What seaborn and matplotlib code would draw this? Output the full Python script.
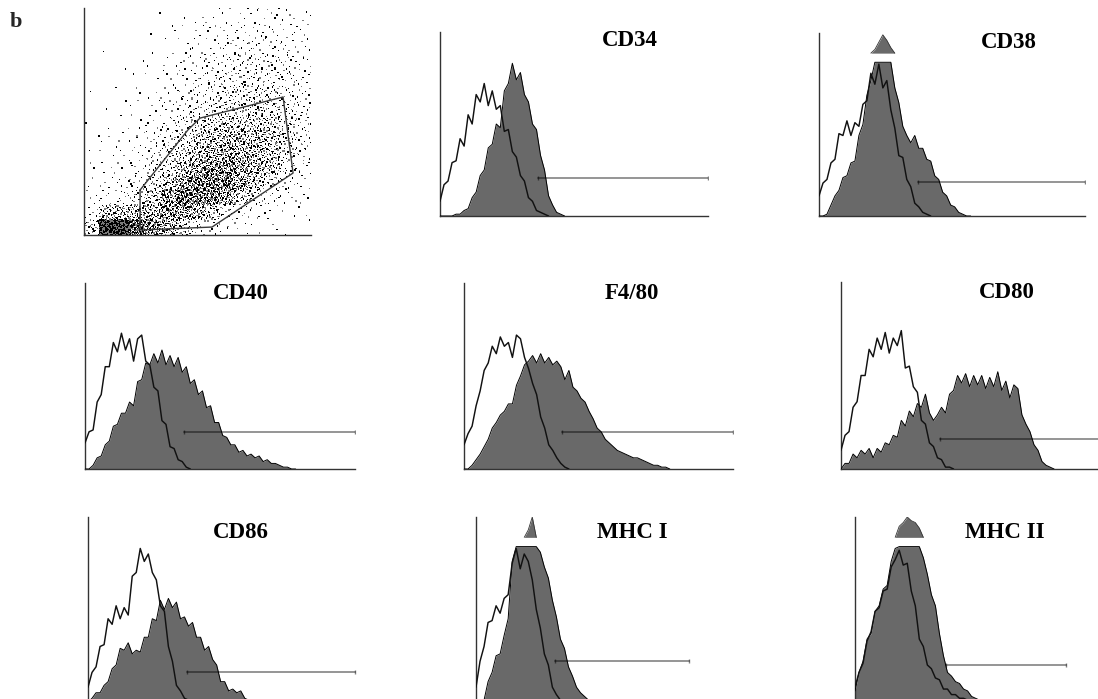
import numpy as np
import pandas as pd
import matplotlib
matplotlib.use("Agg")
import matplotlib.pyplot as plt
import seaborn as sns

# scatter: dot counts per cell of a 15 x 15 grid (top row first)
scatter_counts = [
    [0, 0, 0, 0, 0, 1, 1, 2, 3, 3, 4, 5, 5, 4, 3],
    [0, 0, 0, 0, 1, 1, 2, 3, 4, 5, 6, 7, 6, 5, 4],
    [0, 1, 0, 0, 1, 2, 3, 5, 6, 8, 9, 9, 8, 7, 5],
    [0, 0, 0, 1, 1, 2, 4, 6, 9, 11, 12, 12, 11, 9, 6],
    [0, 0, 1, 1, 2, 3, 5, 8, 11, 14, 15, 15, 14, 11, 8],
    [1, 0, 1, 2, 2, 4, 7, 10, 14, 17, 18, 18, 16, 13, 9],
    [0, 1, 1, 2, 3, 6, 9, 14, 18, 22, 24, 24, 20, 16, 10],
    [1, 1, 2, 3, 5, 8, 13, 20, 26, 30, 32, 32, 28, 20, 12],
    [1, 2, 2, 4, 7, 12, 20, 30, 38, 42, 44, 42, 34, 22, 12],
    [1, 2, 3, 5, 9, 16, 28, 42, 52, 55, 52, 46, 36, 20, 10],
    [2, 3, 4, 7, 12, 22, 40, 60, 72, 70, 60, 48, 34, 16, 8],
    [3, 4, 6, 10, 18, 34, 60, 85, 90, 78, 56, 36, 20, 10, 5],
    [4, 6, 10, 18, 32, 58, 90, 100, 85, 56, 30, 16, 8, 5, 3],
    [6, 40, 45, 45, 50, 65, 65, 50, 30, 15, 8, 5, 3, 2, 2],
    [25, 330, 320, 130, 80, 50, 28, 14, 7, 4, 3, 2, 2, 1, 1],
]
gate_x = [247, 247, 564, 921, 877, 511, 458, 247]
gate_y = [198, 22, 35, 273, 608, 515, 463, 198]

# histograms: heights (% of axis) every 1.5 % of the axis width
STEP = 1.5
cd34_ctrl = [8, 17, 19, 29, 30, 42, 38, 55, 50, 66, 62, 72, 60, 68, 58, 60, 46, 47, 35, 32, 22, 19, 10, 8, 3, 2, 1, 0]
cd34_pos = [0, 0, 0, 0, 1, 1, 3, 4, 10, 13, 22, 25, 37, 39, 50, 48, 68, 72, 83, 74, 78, 66, 62, 50, 47, 33, 25, 11, 6, 2, 1, 0]
cd38_ctrl = [11, 18, 20, 29, 31, 45, 44, 52, 44, 51, 49, 61, 63, 78, 72, 83, 70, 74, 58, 48, 33, 32, 20, 16, 7, 5, 2, 1, 0]
cd38_pos = [0, 0, 1, 6, 11, 14, 21, 22, 29, 30, 44, 50, 66, 74, 86, 90, 94, 91, 87, 70, 62, 49, 44, 40, 44, 37, 37, 31, 30, 22,
            20, 13, 11, 6, 5, 2, 1, 0, 0]
cd40_ctrl = [14, 20, 21, 36, 40, 55, 55, 68, 63, 73, 64, 70, 58, 70, 72, 58, 56, 44, 42, 26, 24, 12, 11, 5, 4, 1, 0]
cd40_pos = [0, 0, 2, 6, 7, 13, 15, 23, 24, 30, 30, 36, 34, 47, 48, 57, 56, 62, 57, 64, 56, 61, 55, 60, 52, 55, 46, 48, 40, 42,
            33, 34, 25, 25, 18, 17, 13, 13, 9, 10, 7, 8, 6, 7, 4, 5, 3, 3, 2, 1, 1, 0, 0]
f480_ctrl = [13, 19, 23, 34, 42, 53, 57, 66, 62, 71, 66, 68, 60, 72, 70, 60, 54, 46, 40, 28, 22, 13, 10, 6, 3, 1, 0]
f480_pos = [0, 0, 2, 5, 8, 12, 16, 22, 25, 29, 31, 35, 35, 45, 50, 56, 58, 61, 57, 62, 57, 60, 56, 58, 55, 48, 53, 44, 42, 38,
            36, 31, 27, 22, 20, 16, 14, 12, 10, 9, 8, 7, 6, 6, 5, 4, 3, 2, 2, 1, 1, 0]
cd80_ctrl = [10, 18, 20, 33, 36, 50, 50, 64, 60, 70, 64, 73, 62, 70, 66, 74, 54, 55, 44, 41, 26, 24, 14, 12, 6, 5, 1, 1, 0]
cd80_pos = [0, 3, 3, 8, 6, 10, 8, 11, 6, 11, 9, 14, 13, 18, 17, 26, 23, 31, 28, 35, 33, 40, 30, 26, 29, 33, 30, 40, 42, 50,
            46, 51, 44, 50, 45, 50, 43, 49, 44, 52, 42, 47, 38, 45, 43, 29, 24, 20, 13, 10, 4, 2, 1, 0]
cd86_ctrl = [8, 16, 19, 30, 31, 45, 42, 52, 45, 51, 47, 68, 70, 83, 76, 80, 70, 66, 52, 49, 30, 22, 9, 6, 2, 1, 0]
cd86_pos = [0, 2, 5, 5, 9, 11, 18, 20, 29, 28, 32, 26, 28, 27, 35, 35, 45, 44, 55, 50, 56, 51, 54, 45, 46, 41, 43, 35, 35, 28,
            30, 23, 20, 11, 11, 6, 7, 5, 6, 2, 1, 0]
mhc1_ctrl = [8, 22, 30, 43, 44, 52, 48, 56, 58, 75, 83, 72, 80, 76, 66, 50, 40, 26, 20, 8, 4, 1, 0]
mhc1_pos = [0, 0, 1, 11, 16, 25, 26, 36, 45, 76, 84, 84, 84, 88, 95, 84, 81, 73, 67, 55, 46, 34, 29, 19, 14, 8, 5, 3, 1, 0]
mhc2_ctrl = [8, 16, 21, 33, 38, 49, 51, 60, 61, 73, 77, 82, 74, 75, 60, 52, 34, 30, 20, 18, 13, 12, 7, 7, 4, 4, 2, 2, 1, 0, 0]
mhc2_pos = [6, 16, 22, 34, 37, 49, 52, 61, 63, 76, 83, 90, 92, 95, 93, 92, 89, 78, 69, 58, 52, 37, 25, 16, 14, 11, 10, 7, 6, 3,
            2, 1, 0]

markers = ["CD34", "CD38", "CD40", "F4/80", "CD80", "CD86", "MHC I", "MHC II"]
controls = [cd34_ctrl, cd38_ctrl, cd40_ctrl, f480_ctrl, cd80_ctrl, cd86_ctrl, mhc1_ctrl, mhc2_ctrl]
positives = [cd34_pos, cd38_pos, cd40_pos, f480_pos, cd80_pos, cd86_pos, mhc1_pos, mhc2_pos]
# gate bar on each histogram: height and start/end (% of axis)
bar_y = [20.4, 18.4, 19.7, 19.7, 15.9, 16.4, 22.1, 20.0]
bar_x0 = [36.6, 37.3, 36.6, 36.3, 36.9, 36.9, 29.4, 33.8]
bar_x1 = [100, 100, 100, 100, 100, 99.8, 79.4, 78.6]

CLIP = 84        # histogram peaks above this wrap round above a white gap
OVER_BASE = 89
FILL = "#696969"

sns.set_theme(style="white")
plt.rcParams["font.family"] = ["Liberation Serif", "DejaVu Serif"]

W, H = 1098, 699
fig = plt.figure(figsize=(W / 100, H / 100), dpi=100)


def add_axes_px(left, top, right, bottom):
    return fig.add_axes([left / W, 1 - bottom / H, (right - left) / W, (bottom - top) / H])


def style_axes(ax, lim):
    ax.set_xlim(0, lim)
    ax.set_ylim(0, lim)
    ax.set_xticks([])
    ax.set_yticks([])
    ax.set_xlabel("")
    ax.set_ylabel("")
    ax.set_facecolor("white")
    sns.despine(ax=ax)
    for s in ["left", "bottom"]:
        ax.spines[s].set_color("#333333")
        ax.spines[s].set_linewidth(1.0)


def halton(i, base):
    f, r = 1.0, 0.0
    while i > 0:
        f /= base
        r += f * (i % base)
        i //= base
    return r


# ---- scatter panel: each cell's dots spread with a Halton sequence
counts = np.array(scatter_counts)
nr, nc = counts.shape
cell = 1000 / nc
xs, ys, shade = [], [], []
for r in range(nr):
    for c in range(nc):
        start = (r * nc + c) * 53 + 7
        for k in range(counts[r, c]):
            xs.append(c * cell + halton(start + k, 2) * cell)
            ys.append((nr - 1 - r) * cell + halton(start + k, 3) * cell)
            shade.append("g" if (k % 5) in (1, 3) else "k")
dots = pd.DataFrame({"x": xs, "y": ys, "shade": shade})

ax_sc = add_axes_px(84, 8, 311, 235)
sns.scatterplot(data=dots, x="x", y="y", hue="shade", palette={"k": "#000000", "g": "#7a7a7a"},
                marker="s", s=1.0, linewidth=0, legend=False, ax=ax_sc)
sns.lineplot(x=gate_x, y=gate_y, sort=False, estimator=None, color="#3a3a3a", lw=1.0, ax=ax_sc)
style_axes(ax_sc, 1000)

# ---- histogram panels
rects = [(440, 32, 708, 216), (819, 33, 1085, 216),
         (85, 283, 355, 469), (464, 283, 733, 469), (841, 282, 1109, 469),
         (88, 517, 356, 702), (476, 517, 744, 702), (855, 517, 1123, 702)]
title_pos = [(0.71, 0.954), (0.714, 0.95), (0.576, 0.944), (0.623, 0.944), (0.62, 0.944),
             (0.571, 0.914), (0.582, 0.914), (0.56, 0.914)]

for i, name in enumerate(markers):
    ax = add_axes_px(*rects[i])
    ctrl = np.asarray(controls[i], float)
    pos = np.asarray(positives[i], float)
    xc = np.arange(len(ctrl)) * STEP
    xp = np.arange(len(pos)) * STEP

    low = np.minimum(pos, CLIP)
    ax.fill_between(xp, 0, low, color=FILL, lw=0, zorder=1)
    over = pos > CLIP
    if over.any():
        top = np.where(over, np.minimum(OVER_BASE + pos - CLIP, 100), OVER_BASE)
        ax.fill_between(xp, OVER_BASE, top, color=FILL, lw=0, zorder=1)
        near = over | np.roll(over, 1) | np.roll(over, -1)
        ax.plot(xp, np.where(near, top, np.nan), color="#333333", lw=0.6, zorder=3)
    sns.lineplot(x=xp, y=low, sort=False, estimator=None, color="black", lw=0.7, ax=ax, zorder=3)
    sns.lineplot(x=xc, y=ctrl, sort=False, estimator=None, color="#111111", lw=1.05, ax=ax, zorder=4)

    # gate bar
    ax.plot([bar_x0[i], bar_x1[i]], [bar_y[i], bar_y[i]], color="black", alpha=0.45, lw=1.3, zorder=5)
    ax.plot([bar_x0[i], bar_x1[i]], [bar_y[i], bar_y[i]], ls="none", marker="|", ms=3,
            color="black", alpha=0.5, zorder=5)

    style_axes(ax, 100)
    tx, ty = title_pos[i]
    ax.text(tx, ty, name, transform=ax.transAxes, ha="center", va="center",
            fontsize=16.5, fontweight="bold", color="black")

fig.text(10 / W, 1 - 22 / H, "b", fontsize=16, fontweight="bold", va="center", ha="left")

fig.savefig("out.png", dpi=100)
